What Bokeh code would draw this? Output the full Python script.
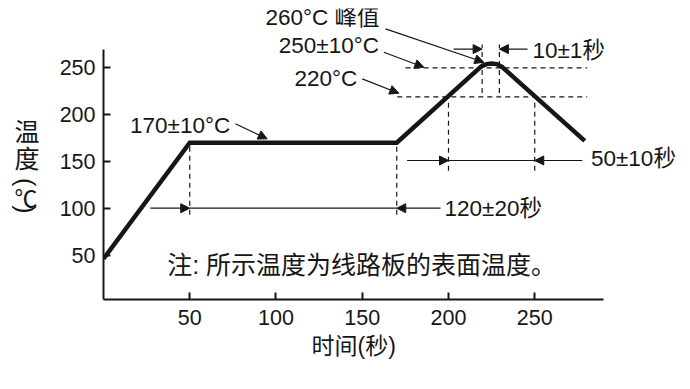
import math
from bokeh.plotting import figure
from bokeh.layouts import row
from bokeh.models import Range1d, FixedTicker, Label, Arrow, NormalHead
from bokeh.core.properties import value
from bokeh.embed import file_html
from bokeh.resources import INLINE

# ---------------- data ----------------
x_ticks = [50, 100, 150, 200, 250]
y_ticks = [50, 100, 150, 200, 250]

# reflow temperature profile (time s, temperature C)
prof_t = [0, 50, 170, 219, 222, 225, 228, 231, 279]
prof_temp = [46, 170, 170, 251.5, 254, 254.5, 254, 251, 172]

# dashed guide lines
vdash_x = [50, 170, 200, 250, 219.5, 229.5]
vdash_top = [170, 170, 219, 219, 275, 275]
vdash_bot = [93, 93, 140, 140, 223, 223]
hdash_y = [250, 219]
hdash_x0 = [175.1, 170.3]
hdash_x1 = [280.4, 280.4]

# dimension arrows: (y, line start, line end, left tip, right tip)
dim_y = [100, 151, 270]
dim_x0 = [27.2, 176.0, 203.0]
dim_x1 = [195.4, 277.6, 245.8]
dim_tip_l = [50, 200, 219.5]
dim_tip_r = [170, 250, 229.5]
dim_connected = [True, True, False]

# pointer arrows (start x, start y, end x, end y)
ptr_x0 = [163.5, 162.5, 150.0, 76.5]
ptr_y0 = [291.7, 266.7, 238.2, 190.2]
ptr_x1 = [220.5, 185.7, 171.2, 94.9]
ptr_y1 = [256.0, 250.6, 222.9, 174.1]

# annotation texts (left edge, vertical centre)
ann_text = ["260°C 峰值", "250±10°C", "220°C", "170±10°C",
            "10±1秒", "50±10秒", "120±20秒"]
ann_x = [93.9, 101.6, 110.7, 15.4, 248.7, 282.6, 197.7]
ann_y = [303.5, 273.5, 239.1, 188.3, 268.8, 152.8, 100.0]

note_text = "注: 所示温度为线路板的表面温度。"
note_x, note_y = 36.9, 39.8

x_title = "时间(秒)"
y_title_chars = ["温", "度"]
y_title_unit = ["℃"]
y_title_parens = ["(", ")"]

# ---------------- styling ----------------
INK = "#161616"
LAT = "Liberation Sans, Noto Sans CJK SC"
CJK = "Noto Sans CJK SC"
H = 381
Y_RANGE = (2.46, 313.4)

# ---------------- left title strip (same vertical scale as chart) ----------------
t = figure(width=50, height=H, x_range=Range1d(0, 50), y_range=Range1d(*Y_RANGE),
           x_axis_type=None, y_axis_type=None, title=None,
           output_backend="svg", toolbar_location=None,
           min_border_left=0, min_border_right=0,
           min_border_top=8, min_border_bottom=82)
t.outline_line_color = None
t.grid.visible = False
t.text(x=[26.5, 26.5], y=[184.1, 155.2], text=y_title_chars,
       text_font=value(CJK), text_font_size="25px", text_color=INK,
       text_align="center", text_baseline="middle")
t.text(x=[25.5], y=[112.5], text=y_title_unit,
       text_font=value(CJK), text_font_size="23px", text_color=INK,
       text_align="center", text_baseline="middle")
t.text(x=[25, 25], y=[127.8, 98.6], text=y_title_parens,
       text_font=value("Liberation Sans"), text_font_size="25px", text_color=INK,
       angle=-math.pi / 2, text_align="center", text_baseline="middle")

# ---------------- main chart ----------------
p = figure(width=630, height=H, title=None,
           x_range=Range1d(0, 334.5), y_range=Range1d(*Y_RANGE),
           output_backend="svg", toolbar_location=None,
           min_border_left=53, min_border_right=0,
           min_border_top=8, min_border_bottom=82)
p.outline_line_color = None
p.grid.visible = False

for ax, ticks, bnds in ((p.xaxis[0], x_ticks, (0, 290)),
                        (p.yaxis[0], y_ticks, (Y_RANGE[0], 270))):
    ax.ticker = FixedTicker(ticks=ticks)
    ax.bounds = bnds
    ax.axis_line_width = 2
    ax.axis_line_color = INK
    ax.major_tick_in = 7
    ax.major_tick_out = 0
    ax.major_tick_line_width = 2
    ax.major_tick_line_color = INK
    ax.minor_tick_line_color = None
    ax.major_label_text_font = "Liberation Sans"
    ax.major_label_text_font_size = "21.5px"
    ax.major_label_text_color = INK

p.xaxis[0].major_label_standoff = 10
p.yaxis[0].major_label_standoff = 8
# the axis label is centred on the whole frame; trailing no-break spaces move
# the visible text to the centre of the drawn axis (0-290)
p.xaxis[0].axis_label = x_title + "\u00a0" * 12
p.xaxis[0].axis_label_text_font = LAT
p.xaxis[0].axis_label_text_font_size = "23px"
p.xaxis[0].axis_label_text_font_style = "normal"
p.xaxis[0].axis_label_text_color = INK
p.xaxis[0].axis_label_standoff = 5

# dashed guides
p.segment(x0=vdash_x, y0=vdash_bot, x1=vdash_x, y1=vdash_top,
          line_color=INK, line_width=1.2, line_dash="5 4")
p.segment(x0=hdash_x0, y0=hdash_y, x1=hdash_x1, y1=hdash_y,
          line_color=INK, line_width=1.2, line_dash="5 4")

# profile
p.line(prof_t, prof_temp, line_color=INK, line_width=4.5, line_join="miter")

def head():
    return NormalHead(size=9, fill_color=INK, line_color=INK, line_width=1)

# dimension arrows
for y, a, b, tl, tr, conn in zip(dim_y, dim_x0, dim_x1, dim_tip_l, dim_tip_r, dim_connected):
    p.add_layout(Arrow(end=head(), x_start=a, y_start=y, x_end=tl, y_end=y,
                       line_color=INK, line_width=1.2))
    p.add_layout(Arrow(end=head(), x_start=b, y_start=y, x_end=tr, y_end=y,
                       line_color=INK, line_width=1.2))
    if conn:
        p.segment(x0=[tl], y0=[y], x1=[tr], y1=[y], line_color=INK, line_width=1.2)

# pointer arrows
for a, b, c, d in zip(ptr_x0, ptr_y0, ptr_x1, ptr_y1):
    p.add_layout(Arrow(end=head(), x_start=a, y_start=b, x_end=c, y_end=d,
                       line_color=INK, line_width=1.2))

# annotation texts
for s, x, y in zip(ann_text, ann_x, ann_y):
    p.add_layout(Label(x=x, y=y, text=s, text_font=LAT, text_font_size="22.5px",
                       text_color=INK, text_align="left", text_baseline="middle"))

p.add_layout(Label(x=note_x, y=note_y, text=note_text, text_font=LAT,
                   text_font_size="25px", text_color=INK,
                   text_align="left", text_baseline="middle"))

layout = row(t, p)
open("out.html", "w").write(file_html(layout, INLINE))
